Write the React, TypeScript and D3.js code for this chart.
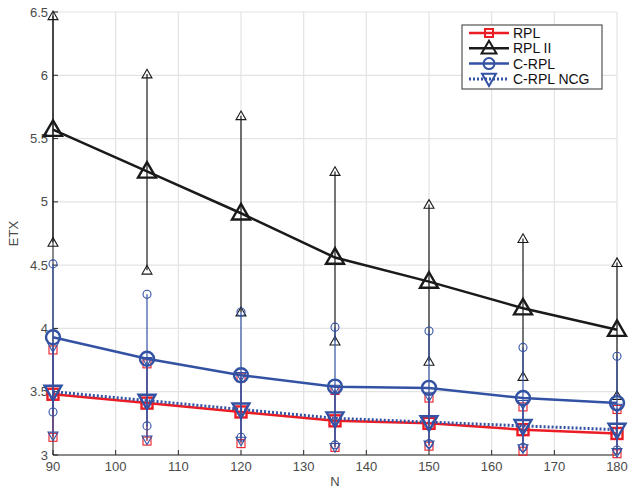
import React from 'react';
import { scaleLinear, line, symbol, symbolTriangle } from 'd3';

const nodes = [90, 105, 120, 135, 150, 165, 180];
const xTicks = [90, 100, 110, 120, 130, 140, 150, 160, 170, 180];
const yTicks = [3, 3.5, 4, 4.5, 5, 5.5, 6, 6.5];

const rplMean = [3.48, 3.41, 3.34, 3.27, 3.25, 3.2, 3.17];
const rplHi = [3.83, 3.72, 3.61, 3.51, 3.45, 3.38, 3.36];
const rplLo = [3.14, 3.11, 3.09, 3.06, 3.07, 3.03, 3.01];

const rpl2Mean = [5.57, 5.24, 4.91, 4.56, 4.37, 4.16, 3.99];
const rpl2Hi = [6.47, 6.01, 5.68, 5.24, 4.98, 4.71, 4.52];
const rpl2Lo = [4.68, 4.46, 4.13, 3.9, 3.74, 3.62, 3.47];

const crplMean = [3.93, 3.76, 3.63, 3.54, 3.53, 3.45, 3.41];
const crplHi = [4.51, 4.27, 4.13, 4.01, 3.98, 3.85, 3.78];
const crplLo = [3.34, 3.23, 3.14, 3.08, 3.09, 3.06, 3.04];

const ncgMean = [3.5, 3.43, 3.36, 3.29, 3.26, 3.23, 3.2];
const ncgHi = [3.85, 3.74, 3.62, 3.52, 3.46, 3.4, 3.37];
const ncgLo = [3.15, 3.12, 3.11, 3.06, 3.08, 3.05, 3.02];

type Shape = 'square' | 'up' | 'circle' | 'down';

const series = [
  { name: 'RPL', color: '#ec1c24', shape: 'square' as Shape, dash: null, mean: rplMean, hi: rplHi, lo: rplLo },
  { name: 'RPL II', color: '#1a1a1a', shape: 'up' as Shape, dash: null, mean: rpl2Mean, hi: rpl2Hi, lo: rpl2Lo },
  { name: 'C-RPL', color: '#3352a3', shape: 'circle' as Shape, dash: null, mean: crplMean, hi: crplHi, lo: crplLo },
  { name: 'C-RPL NCG', color: '#3352a3', shape: 'down' as Shape, dash: '2,2', mean: ncgMean, hi: ncgHi, lo: ncgLo },
];

const W = 643;
const H = 488;
const margin = { left: 53, right: 26, top: 12, bottom: 33 };

const x = scaleLinear().domain([90, 180]).range([margin.left, W - margin.right]);
const y = scaleLinear().domain([3, 6.5]).range([H - margin.bottom, margin.top]);

const font = '"Liberation Sans", Arial, Helvetica, sans-serif';

// marker sizes: [big, small]
const sizes: Record<Shape, [number, number]> = {
  square: [11, 8],
  up: [18, 10],
  circle: [14, 8],
  down: [17, 10],
};

const Marker = ({ shape, cx, cy, size, color, sw }: { shape: Shape; cx: number; cy: number; size: number; color: string; sw: number }) => {
  if (shape === 'circle') {
    return <circle cx={cx} cy={cy} r={size / 2} fill="none" stroke={color} strokeWidth={sw} />;
  }
  if (shape === 'square') {
    return <rect x={cx - size / 2} y={cy - size / 2} width={size} height={size} fill="none" stroke={color} strokeWidth={sw} />;
  }
  const d = symbol(symbolTriangle, size * size * 0.43)();
  const down = shape === 'down';
  return <path d={d} transform={`translate(${cx},${cy + (down ? -1 : 1)}) rotate(${down ? 180 : 0})`} fill="none" stroke={color} strokeWidth={sw} />;
};

export default function App() {
  const lineGen = line<number>().x((_, i) => x(nodes[i])).y(d => y(d));
  const x0 = x.range()[0];
  const y0 = y.range()[0];

  return (
    <svg width={W} height={H} style={{ position: 'absolute', left: 0, top: 0, background: '#fff' }}>
      {/* grid */}
      <g stroke="#e3e3e3" strokeWidth={1.2}>
        {xTicks.map(t => <line key={'gx' + t} x1={x(t)} x2={x(t)} y1={y(6.5)} y2={y(3)} />)}
        {yTicks.map(t => <line key={'gy' + t} x1={x(90)} x2={x(180)} y1={y(t)} y2={y(t)} />)}
      </g>
      {/* axes */}
      <g stroke="#262626" strokeWidth={1}>
        <line x1={x0} x2={x(180)} y1={y0} y2={y0} />
        <line x1={x0} x2={x0} y1={y(6.5)} y2={y0} />
        {xTicks.map(t => <line key={'tx' + t} x1={x(t)} x2={x(t)} y1={y0} y2={y0 - 5} />)}
        {yTicks.map(t => <line key={'ty' + t} x1={x0} x2={x0 + 5} y1={y(t)} y2={y(t)} />)}
      </g>
      <g fontFamily={font} fontSize={13} fill="#4a4a4a">
        {xTicks.map(t => <text key={'lx' + t} x={x(t)} y={y0 + 16} textAnchor="middle">{t}</text>)}
        {yTicks.map(t => <text key={'ly' + t} x={x0 - 5} y={y(t) + 4.5} textAnchor="end">{t}</text>)}
        <text x={(x(90) + x(180)) / 2} y={486} textAnchor="middle">N</text>
        <text transform={`translate(18,${(y(3) + y(6.5)) / 2}) rotate(-90)`} textAnchor="middle">ETX</text>
      </g>
      {/* series */}
      {series.map(s => (
        <g key={s.name}>
          {nodes.map((n, i) => (
            <g key={n}>
              <line x1={x(n)} x2={x(n)} y1={y(s.lo[i])} y2={y(s.hi[i])} stroke={s.color} strokeWidth={1.2} />
              <Marker shape={s.shape} cx={x(n)} cy={y(s.lo[i])} size={sizes[s.shape][1]} color={s.color} sw={1.1} />
              <Marker shape={s.shape} cx={x(n)} cy={y(s.hi[i])} size={sizes[s.shape][1]} color={s.color} sw={1.1} />
            </g>
          ))}
          <path d={lineGen(s.mean) || ''} fill="none" stroke={s.color} strokeWidth={s.dash ? 3 : 2.5} strokeDasharray={s.dash || undefined} />
          {nodes.map((n, i) => (
            <Marker key={'m' + n} shape={s.shape} cx={x(n)} cy={y(s.mean[i])} size={sizes[s.shape][0]} color={s.color} sw={2.4} />
          ))}
        </g>
      ))}
      {/* legend */}
      <g>
        <rect x={462} y={25} width={140} height={64} fill="#fff" stroke="#333" strokeWidth={1} />
        {series.map((s, i) => {
          const ly = 33 + i * 15.3;
          return (
            <g key={'lg' + s.name}>
              <line x1={469} x2={509} y1={ly} y2={ly} stroke={s.color} strokeWidth={s.dash ? 3 : 2.5} strokeDasharray={s.dash || undefined} />
              <Marker shape={s.shape} cx={489} cy={ly} size={sizes[s.shape][0] - 3} color={s.color} sw={2} />
              <text x={513} y={ly + 5} fontFamily={font} fontSize={14} fill="#111">{s.name}</text>
            </g>
          );
        })}
      </g>
    </svg>
  );
}
